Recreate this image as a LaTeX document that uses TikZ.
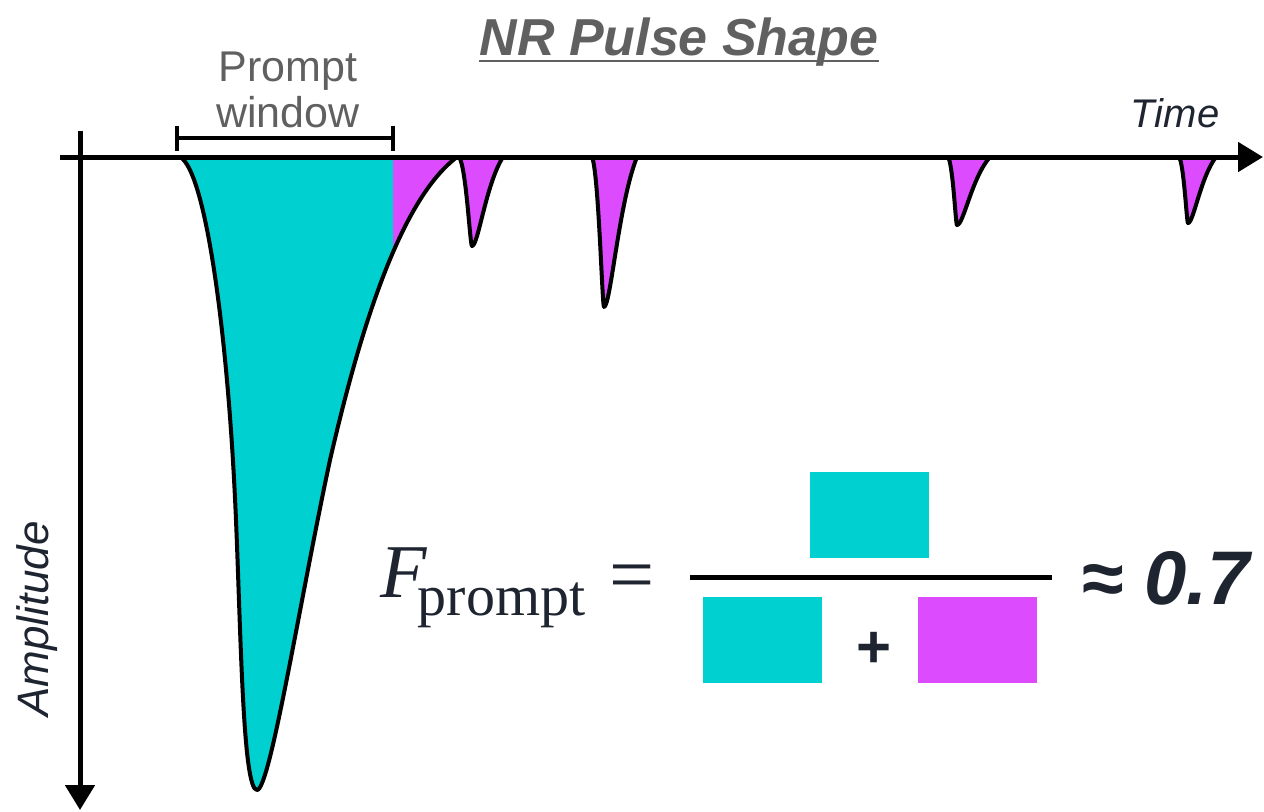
\documentclass[tikz,border=0pt]{standalone}
\usepackage{fontspec}
\setmainfont{Liberation Sans}
\newfontfamily\timesfont{Liberation Serif}
\usetikzlibrary{arrows.meta, positioning}

\definecolor{promptcyan}{RGB}{0,208,208}
\definecolor{latemagenta}{RGB}{221,75,255}
\definecolor{titlegray}{RGB}{96,96,96}
\definecolor{inkdark}{RGB}{30,36,48}

% outline of the big NR pulse (baseline at y=157)
\newcommand{\mainpulse}{(180,157) .. controls (205,170) and (228,330) .. (236,520)
  .. controls (241,640) and (243,790) .. (257,790)
  .. controls (270,790) and (300,600) .. (330,460)
  .. controls (360,330) and (400,200) .. (457,157) -- cycle}

\begin{document}
\begin{tikzpicture}[x=0.5pt, y=-0.5pt]
        \tikzstyle{axisline} = [line width=2.5pt, -{Triangle[length=12.5pt,width=14.5pt]}]
        \tikzstyle{pulseline} = [line width=2pt, line join=round, draw=black]
        \tikzstyle{windowbar} = [line width=2pt, {Bar[width=12.5pt]}-{Bar[width=12.5pt]}]
        \tikzstyle{areabox} = [rectangle, minimum width=59.5pt, minimum height=43pt, inner sep=0pt]
        \tikzstyle{axislabel} = [anchor=base, inner sep=0pt, text=inkdark]

        \useasboundingbox (0,0) rectangle (1264,811);

        % big pulse: prompt part in cyan, tail in magenta
        \fill[latemagenta] \mainpulse;
        \begin{scope}
            \clip (0,0) rectangle (393,811);
            \fill[promptcyan] \mainpulse;
        \end{scope}
        \draw[pulseline] \mainpulse;

        % late single pulses
        \foreach \xs/\xm/\ym/\xe in {459/472/246/503, 592/604/307/637, 948/957/225/990, 1179/1188/223/1216}
            \filldraw[pulseline, fill=latemagenta] (\xs,157)
                .. controls ({\xs+0.55*(\xm-\xs)},{157+0.1*(\ym-157)}) and ({\xm-0.15*(\xm-\xs)},\ym) .. (\xm,\ym)
                .. controls ({\xm+0.2*(\xe-\xm)},\ym) and ({\xm+0.45*(\xe-\xm)},{157+0.3*(\ym-157)}) .. (\xe,157) -- cycle;

        % axes
        \coordinate (tstart) at (60,157);
        \coordinate (tend) at (1263,157);
        \coordinate (atop) at (80,131);
        \coordinate (abottom) at (80,810);
        \draw[axisline] (tstart) -- (tend);
        \draw[axisline] (atop) -- (abottom);
        \node[axislabel, font=\fontsize{20}{24}\selectfont\itshape] (timelabel) at (1175,127) {Time};
        \node[axislabel, rotate=90, font=\fontsize{22}{26}\selectfont\itshape] (amplabel) at (48,619) {Amplitude};

        % title
        \node[anchor=base, inner sep=0pt, text=titlegray, font=\fontsize{26}{30}\selectfont\bfseries\itshape] (title) at (679,55) {NR Pulse Shape};
        \draw[titlegray, line width=1.2pt] ([yshift=-3pt]title.base west) -- ([yshift=-3pt]title.base east);

        % prompt window
        \coordinate (pwleft) at (175,138);
        \coordinate (pwright) at (395,138);
        \draw[windowbar] (pwleft) -- (pwright);
        \node[anchor=base, inner sep=0pt, align=center, text=titlegray, font=\fontsize{21.5}{23}\selectfont] (pwlabel) at (288,127) {Prompt\\window};

        % F_prompt formula
        \node[anchor=base west, inner sep=0pt, text=inkdark] (fprompt) at (380,597)
            {{\timesfont\itshape\fontsize{38}{38}\selectfont F}\kern-4.5pt\raisebox{-9pt}{\timesfont\fontsize{29}{29}\selectfont prompt}};
        \node[anchor=base, inner sep=0pt, text=inkdark, font=\timesfont\fontsize{40}{40}\selectfont] (equal) at (632,601) {=};
        \coordinate (fracleft) at (690,577);
        \coordinate (fracright) at (1052,577);
        \draw[line width=2.5pt] (fracleft) -- (fracright);
        \node[areabox, fill=promptcyan] (numbox) at (869,515) {};
        \node[areabox, fill=promptcyan] (denbox) at (762.5,639.5) {};
        \node[areabox, fill=latemagenta] (tailbox) at (977.5,639.5) {};
        \node[inner sep=0pt, text=inkdark, font=\fontsize{30}{30}\selectfont\bfseries] (plus) at (874,650) {+};
        \node[anchor=base, inner sep=0pt, text=inkdark, font=\fontsize{38}{38}\selectfont\bfseries\itshape] (result) at (1166,604) {≈ 0.7};
\end{tikzpicture}
\end{document}
